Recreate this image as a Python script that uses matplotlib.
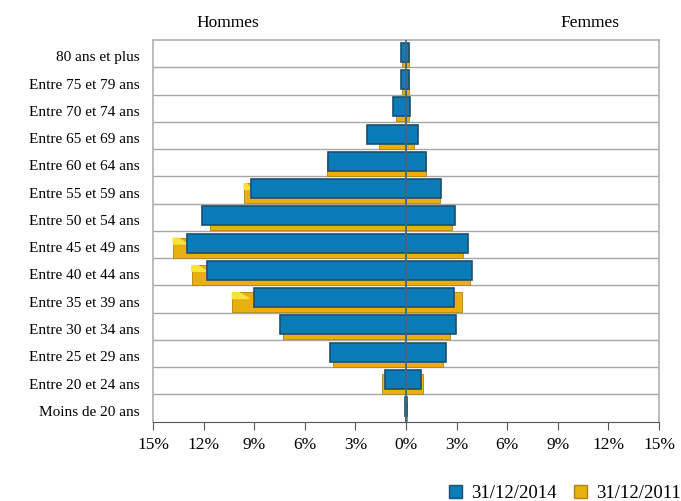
import matplotlib
matplotlib.use("Agg")
import matplotlib.pyplot as plt
from matplotlib.patches import Patch, Polygon
import numpy as np

plt.rcParams['font.family'] = ['Liberation Serif', 'DejaVu Serif']

categories = ["80 ans et plus", "Entre 75 et 79 ans", "Entre 70 et 74 ans",
              "Entre 65 et 69 ans", "Entre 60 et 64 ans", "Entre 55 et 59 ans",
              "Entre 50 et 54 ans", "Entre 45 et 49 ans", "Entre 40 et 44 ans",
              "Entre 35 et 39 ans", "Entre 30 et 34 ans", "Entre 25 et 29 ans",
              "Entre 20 et 24 ans", "Moins de 20 ans"]

# percentages
hommes_2014 = [0.3, 0.3, 0.8, 2.3, 4.65, 9.2, 12.1, 13.0, 11.8, 9.0, 7.5, 4.5, 1.25, 0.05]
femmes_2014 = [0.2, 0.2, 0.25, 0.7, 1.2, 2.1, 2.9, 3.65, 3.9, 2.85, 2.95, 2.35, 0.9, 0.03]
hommes_2011 = [0.25, 0.25, 0.6, 1.6, 4.7, 9.6, 11.6, 13.8, 12.7, 10.3, 7.3, 4.3, 1.4, 0.05]
femmes_2011 = [0.15, 0.15, 0.2, 0.5, 1.2, 2.0, 2.7, 3.4, 3.8, 3.3, 2.6, 2.2, 1.0, 0.03]

xticks = [-15, -12, -9, -6, -3, 0, 3, 6, 9, 12, 15]

blue = '#0a7cba'
blue_edge = '#1d4f6e'
yellow = '#e8b00e'
yellow_top = '#f7e43a'
yellow_edge = '#b08410'

fig = plt.figure(figsize=(6.81, 5.01), dpi=100)
ax = fig.add_axes([0.2247, 0.1583, 0.7430, 0.7617])

n = len(categories)
y = np.arange(n)

# 2011 series (behind)
for i in range(n):
    ax.barh(i + 0.62, -hommes_2011[i], height=0.72, color=yellow, edgecolor=yellow_edge,
            linewidth=0.6, zorder=2)
    ax.barh(i + 0.62, femmes_2011[i], height=0.72, color=yellow, edgecolor=yellow_edge,
            linewidth=0.6, zorder=2)
    # small top face where the 2011 bar sticks out past 2014
    extra = hommes_2011[i] - hommes_2014[i]
    if extra > 0.3:
        w = -hommes_2011[i]
        d = min(1.0, extra)
        ax.add_patch(Polygon([[w, i + 0.27], [w + d * 0.4, i + 0.27],
                              [w + d, i + 0.48], [w, i + 0.48]],
                             closed=True, color=yellow_top, zorder=2.1))

# 2014 series (front)
for i in range(n):
    ax.barh(i + 0.45, -hommes_2014[i], height=0.7, color=blue, edgecolor=blue_edge,
            linewidth=1.2, zorder=3)
    ax.barh(i + 0.45, femmes_2014[i], height=0.7, color=blue, edgecolor=blue_edge,
            linewidth=1.2, zorder=3)

ax.axvline(0, color='#3f6a86', linewidth=1.3, zorder=4)

ax.set_xlim(-15, 15)
ax.set_ylim(n, 0)
for k in range(1, n):
    ax.axhline(k, color='#a6a6a6', linewidth=1.0, zorder=1)

ax.set_yticks(y + 0.6)
ax.set_yticklabels(categories, fontsize=11)
ax.tick_params(axis='y', length=0, pad=10)
ax.set_xticks(xticks)
ax.set_xticklabels([f"{abs(t)}%" for t in xticks], fontsize=12.5)
ax.tick_params(axis='x', direction='out', length=6, color='#555555', pad=5)

for s in ('left', 'right', 'top'):
    ax.spines[s].set_color('#b0b0b0')
    ax.spines[s].set_linewidth(1.2)
ax.spines['bottom'].set_color('#555555')

fig.text(228 / 681, 1 - 23 / 501, "Hommes", fontsize=12.5, ha='center', va='center')
fig.text(590 / 681, 1 - 23 / 501, "Femmes", fontsize=12.5, ha='center', va='center')

handles = [Patch(facecolor=blue, edgecolor=blue_edge, label="31/12/2014"),
           Patch(facecolor=yellow, edgecolor=yellow_edge, label="31/12/2011")]
fig.legend(handles=handles, loc='lower left', bbox_to_anchor=(432 / 681, -0.035), ncol=2,
           frameon=False, fontsize=13.5, handlelength=0.7, handleheight=0.7,
           handletextpad=0.5, columnspacing=0.9)

fig.savefig("out.png", dpi=100)
